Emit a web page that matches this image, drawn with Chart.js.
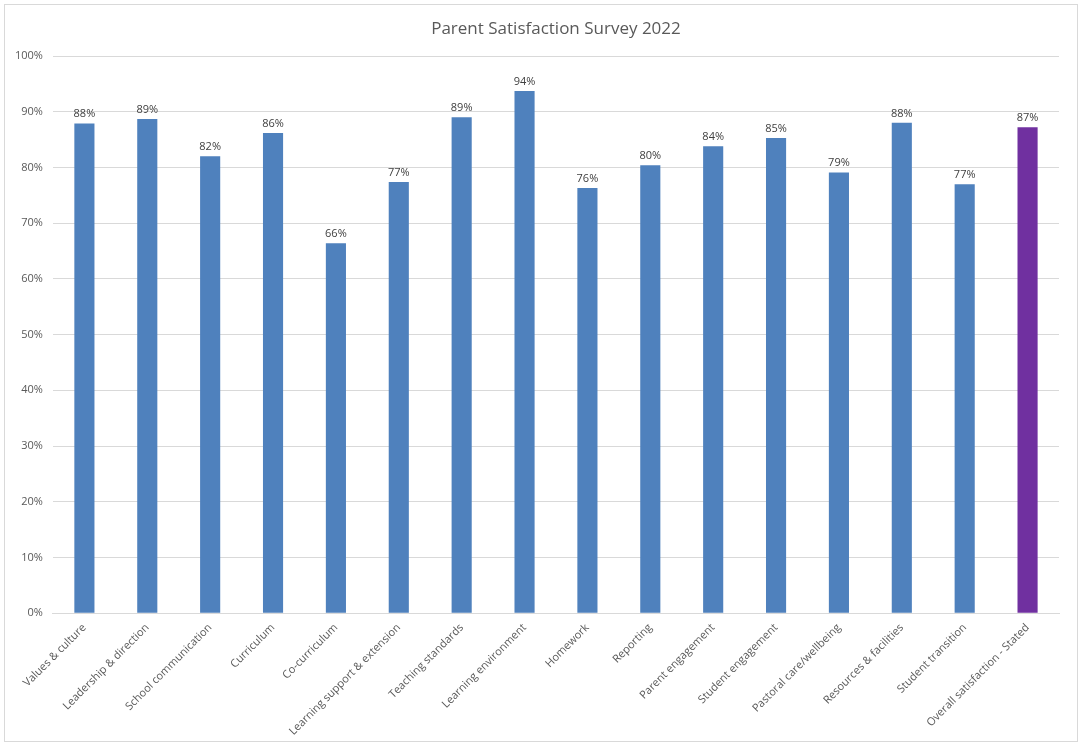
<!DOCTYPE html>
<html>
<head>
<meta charset="utf-8">
<script src="https://cdn.jsdelivr.net/npm/chart.js@4.4.0/dist/chart.umd.min.js"></script>
<style>
  html, body { margin: 0; padding: 0; background: #fff; }
  #wrap {
    position: absolute; left: 4px; top: 4px;
    width: 1072px; height: 736px;
    border: 1px solid #d9d9d9;
  }
</style>
</head>
<body>
<div id="wrap"><canvas id="surveyChart"></canvas></div>
<script>
// categorias del eje x
const categorias = [
  'Values & culture', 'Leadership & direction', 'School communication', 'Curriculum',
  'Co-curriculum', 'Learning support & extension', 'Teaching standards', 'Learning environment',
  'Homework', 'Reporting', 'Parent engagement', 'Student engagement',
  'Pastoral care/wellbeing', 'Resources & facilities', 'Student transition', 'Overall satisfaction - Stated'
];

// valores (en %)
const satisfaccion = [87.9, 88.7, 82.0, 86.2, 66.4, 77.4, 89.0, 93.7, 76.3, 80.4, 83.8, 85.3, 79.1, 88.0, 77.0, 87.2];

const ticksY = [0, 10, 20, 30, 40, 50, 60, 70, 80, 90, 100];

const titulo = 'Parent Satisfaction Survey 2022';

const azul = '#4f81bd';
const morado = '#7030a0';
const gris = '#595959';

// el ultimo (Overall) va en morado
const colores = satisfaccion.map((v, i) => i === satisfaccion.length - 1 ? morado : azul);

// plugin sencillo para poner las etiquetas encima de cada barra
const etiquetasBarras = {
  id: 'etiquetasBarras',
  afterDatasetsDraw(chart) {
    const ctx = chart.ctx;
    const meta = chart.getDatasetMeta(0);
    ctx.save();
    ctx.font = '11px "Open Sans", sans-serif';
    ctx.fillStyle = '#404040';
    ctx.textAlign = 'center';
    ctx.textBaseline = 'bottom';
    meta.data.forEach((bar, i) => {
      ctx.fillText(Math.round(satisfaccion[i]) + '%', bar.x, bar.y - 4);
    });
    ctx.restore();
  }
};

// titulo dibujado a mano (centrado sobre el area del grafico, como en Excel)
const tituloPlugin = {
  id: 'tituloPlugin',
  afterDraw(chart) {
    const ctx = chart.ctx;
    const area = chart.chartArea;
    ctx.save();
    ctx.font = '17px "Open Sans", sans-serif';
    ctx.fillStyle = gris;
    ctx.textAlign = 'center';
    ctx.textBaseline = 'middle';
    ctx.fillText(titulo, (area.left + area.right) / 2, 24);
    ctx.restore();
  }
};

new Chart(document.getElementById('surveyChart'), {
  type: 'bar',
  data: {
    labels: categorias,
    datasets: [{
      data: satisfaccion,
      backgroundColor: colores,
      borderWidth: 0,
      barPercentage: 1,
      categoryPercentage: 0.32
    }]
  },
  options: {
    responsive: true,
    maintainAspectRatio: false,
    animation: false,
    layout: { padding: { left: 0, right: 18, top: 51, bottom: 3 } },
    plugins: {
      legend: { display: false },
      tooltip: { enabled: false },
      title: { display: false }
    },
    scales: {
      x: {
        grid: { display: false },
        border: { color: '#d9d9d9' },
        ticks: {
          color: gris,
          font: { family: '"Open Sans", sans-serif', size: 11 },
          maxRotation: 45,
          minRotation: 45,
          autoSkip: false,
          padding: 0
        }
      },
      y: {
        min: 0,
        max: 100,
        afterBuildTicks: axis => { axis.ticks = ticksY.map(v => ({ value: v })); },
        grid: { color: '#d9d9d9', drawTicks: false },
        border: { display: false },
        ticks: {
          color: gris,
          font: { family: '"Open Sans", sans-serif', size: 11 },
          padding: 10,
          callback: v => v + '%'
        }
      }
    }
  },
  plugins: [etiquetasBarras, tituloPlugin]
});
</script>
</body>
</html>
